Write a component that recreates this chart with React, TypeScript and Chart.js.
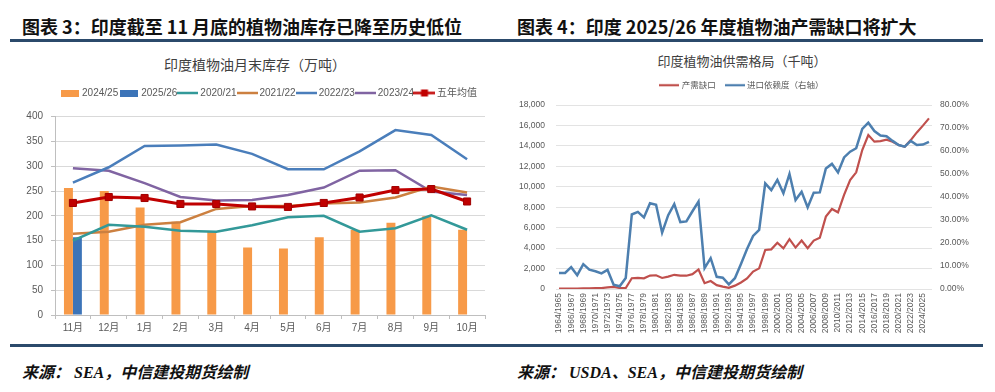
import React, { useEffect, useRef } from 'react';
import { Chart, registerables } from 'chart.js';

Chart.register(...registerables);

const FONT = "'Liberation Sans', 'Noto Sans CJK SC', sans-serif";
const CJK = "'Noto Sans CJK SC', 'Liberation Sans', sans-serif";

// ---------- Left chart: India vegetable oil month-end stocks (10k t) ----------
const months = ['11月', '12月', '1月', '2月', '3月', '4月', '5月', '6月', '7月', '8月', '9月', '10月'];
const stock2425 = [256, 250, 217, 188, 168, 136, 134, 157, 172, 186, 199, 172];
const stock2526 = [157, null, null, null, null, null, null, null, null, null, null, null];
const stock2021 = [150, 182, 178, 170, 168, 181, 197, 200, 168, 175, 201, 172];
const stock2122 = [164, 168, 182, 187, 214, 220, 220, 225, 227, 237, 259, 247];
const stock2223 = [267, 298, 341, 342, 344, 325, 294, 294, 330, 373, 363, 314];
const stock2324 = [296, 291, 266, 238, 231, 232, 242, 257, 291, 292, 249, 242];
const fiveYearAvg = [226, 238, 236, 224, 224, 219, 218, 226, 237, 252, 254, 229];

// ---------- Right chart: India vegetable oil supply-demand (kt) ----------
const seasons = ['1964/1965', '1965/1966', '1966/1967', '1967/1968', '1968/1969', '1969/1970', '1970/1971', '1971/1972', '1972/1973', '1973/1974', '1974/1975', '1975/1976', '1976/1977', '1977/1978', '1978/1979', '1979/1980', '1980/1981', '1981/1982', '1982/1983', '1983/1984', '1984/1985', '1985/1986', '1986/1987', '1987/1988', '1988/1989', '1989/1990', '1990/1991', '1991/1992', '1992/1993', '1993/1994', '1994/1995', '1995/1996', '1996/1997', '1997/1998', '1998/1999', '1999/2000', '2000/2001', '2001/2002', '2002/2003', '2003/2004', '2004/2005', '2005/2006', '2006/2007', '2007/2008', '2008/2009', '2009/2010', '2010/2011', '2011/2012', '2012/2013', '2013/2014', '2014/2015', '2015/2016', '2016/2017', '2017/2018', '2018/2019', '2019/2020', '2020/2021', '2021/2022', '2022/2023', '2023/2024', '2024/2025', '2025/2026'];
const supplyGap = [30, 30, 40, 50, 60, 70, 80, 90, 150, 200, 100, 100,
  1050, 1080, 1050, 1310, 1345, 1080, 1210, 1390, 1300, 1300, 1450, 1910,
  570, 780, 380, 230, 110, 330, 640, 1040, 1700, 2020, 3820, 3880,
  4530, 3980, 4870, 4050, 4740, 3990, 4740, 5020, 7080, 7830, 7500, 9200,
  10660, 11410, 13590, 15060, 14410, 14470, 14600, 14410, 14080, 13920, 14570, 15320, 15980, 16690];
const importDependence = [7.0, 7.0, 9.5, 6.0, 10.8, 8.4, 7.7, 6.8, 8.3, 1.9, 1.2, 4.8,
  32.4, 33.5, 31.1, 37.3, 36.6, 24.5, 32.1, 36.9, 29.1, 29.4, 33.8, 38.0,
  9.1, 13.4, 5.3, 4.9, 2.0, 4.7, 10.9, 17.4, 23.1, 25.7, 45.9, 43.0,
  47.4, 41.6, 50.0, 38.7, 42.3, 35.5, 41.9, 42.0, 52.4, 54.4, 50.7, 57.2,
  59.7, 61.2, 69.6, 72.3, 68.7, 66.7, 66.4, 64.4, 62.6, 61.9, 64.4, 62.6, 62.8, 64.0];

const C2425 = '#F79A48';
const C2526 = '#3C74B8';
const C2021 = '#339999';
const C2122 = '#CC8040';
const C2223 = '#4A7EBB';
const C2324 = '#8064A2';
const CAVG = '#C00000';
const CGAP = '#C0504D';
const CIMP = '#4D7FAF';

function makeIcon(w: number, h: number, draw: (ctx: CanvasRenderingContext2D) => void) {
  const c = document.createElement('canvas');
  c.width = w;
  c.height = h;
  const ctx = c.getContext('2d')!;
  draw(ctx);
  return c;
}

function lineIcon(color: string, w: number, lw: number) {
  const h = 4;
  return makeIcon(w, h, (ctx) => {
    ctx.strokeStyle = color;
    ctx.lineWidth = lw;
    ctx.beginPath();
    ctx.moveTo(0, h / 2);
    ctx.lineTo(w, h / 2);
    ctx.stroke();
  });
}

// extra space below the legend and optional horizontal shift of the legend drawing
function legendTweak(id: string, extra: number, dx: number) {
  return {
    id,
    beforeInit(chart: any) {
      const legend = chart.legend;
      if (!legend) return;
      const origFit = legend.fit.bind(legend);
      legend.fit = function () {
        origFit();
        this.height += extra;
      };
      const origDraw = legend.draw.bind(legend);
      legend.draw = function () {
        const ctx = this.ctx;
        ctx.save();
        ctx.translate(dx, 0);
        origDraw();
        ctx.restore();
      };
    },
  };
}

function StockChart() {
  const ref = useRef<HTMLCanvasElement>(null);
  useEffect(() => {
    const barIcon = (color: string) => makeIcon(18, 7, (ctx) => { ctx.fillStyle = color; ctx.fillRect(0, 0, 18, 7); });
    const avgIcon = makeIcon(22, 9, (ctx) => {
      ctx.strokeStyle = CAVG;
      ctx.lineWidth = 2.5;
      ctx.beginPath();
      ctx.moveTo(0, 4.5);
      ctx.lineTo(22, 4.5);
      ctx.stroke();
      ctx.fillStyle = CAVG;
      ctx.fillRect(7.5, 1, 7, 7);
    });
    const icons = [barIcon(C2425), barIcon(C2526), lineIcon(C2021, 21, 2.5), lineIcon(C2122, 21, 2.5), lineIcon(C2223, 21, 2.5), lineIcon(C2324, 21, 2.5), avgIcon];
    const lineDs = (label: string, data: number[], color: string) => ({
      type: 'line' as const, label, data, borderColor: color, backgroundColor: color,
      borderWidth: 2.5, pointRadius: 0, tension: 0, order: 1,
    });
    const chart = new Chart(ref.current!, {
      type: 'bar',
      data: {
        labels: months,
        datasets: [
          { type: 'bar', label: '2024/25', data: stock2425, backgroundColor: C2425, categoryPercentage: 0.5, barPercentage: 1, order: 2 },
          { type: 'bar', label: '2025/26', data: stock2526 as any, backgroundColor: C2526, categoryPercentage: 0.5, barPercentage: 1, order: 2 },
          lineDs('2020/21', stock2021, C2021),
          lineDs('2021/22', stock2122, C2122),
          lineDs('2022/23', stock2223, C2223),
          lineDs('2023/24', stock2324, C2324),
          {
            type: 'line', label: '五年均值', data: fiveYearAvg, borderColor: CAVG, backgroundColor: CAVG,
            borderWidth: 3, pointStyle: 'rect', pointRadius: 5, pointBackgroundColor: CAVG,
            pointBorderColor: '#A00000', pointBorderWidth: 1, tension: 0, order: 0,
          },
        ] as any,
      },
      options: {
        responsive: false,
        animation: false,
        devicePixelRatio: 1,
        layout: { padding: { top: 40, left: 0, right: 10, bottom: 0 } },
        plugins: {
          tooltip: { enabled: false },
          title: { display: false },
          legend: {
            display: true,
            position: 'top',
            labels: {
              usePointStyle: true,
              pointStyleWidth: 15,
              padding: 3,
              color: '#595959',
              font: { size: 10, family: FONT },
              sort: (a: any, b: any) => a.datasetIndex - b.datasetIndex,
              generateLabels: (ch: any) => {
                const items = (Chart.defaults.plugins.legend.labels.generateLabels as any)(ch);
                items.forEach((it: any) => { it.pointStyle = icons[it.datasetIndex]; it.lineWidth = 0; });
                return items;
              },
            },
          },
        },
        scales: {
          x: {
            offset: true,
            grid: { display: true, drawOnChartArea: false, drawTicks: true, tickLength: 4, color: '#BFBFBF', offset: true },
            border: { display: true, color: '#BFBFBF' },
            ticks: { color: '#595959', font: { size: 10, family: FONT }, padding: 3, autoSkip: false, maxRotation: 0 },
            afterFit: (s: any) => { s.height = 27; },
          },
          y: {
            min: 0, max: 400,
            ticks: { stepSize: 50, color: '#595959', font: { size: 10, family: FONT }, padding: 8 },
            grid: { color: '#D9D9D9', drawTicks: true, tickLength: 4, tickColor: '#BFBFBF' },
            border: { display: true, color: '#BFBFBF' },
            afterFit: (s: any) => { s.width = 45; },
          },
        },
      },
      plugins: [legendTweak('leftLegendTweak', 8.7, 22)],
    });
    return () => chart.destroy();
  }, []);
  return <canvas ref={ref} width={485} height={297} style={{ position: 'absolute', left: 10, top: 45 }} />;
}

function BalanceChart() {
  const ref = useRef<HTMLCanvasElement>(null);
  useEffect(() => {
    const icons = [lineIcon(CGAP, 20, 2.2), lineIcon(CIMP, 20, 2.2)];
    const chart = new Chart(ref.current!, {
      type: 'line',
      data: {
        labels: seasons,
        datasets: [
          { label: '产需缺口', data: supplyGap, borderColor: CGAP, backgroundColor: CGAP, borderWidth: 2.2, pointRadius: 0, tension: 0, yAxisID: 'y', order: 1 },
          { label: '进口依赖度（右轴）', data: importDependence, borderColor: CIMP, backgroundColor: CIMP, borderWidth: 2.5, pointRadius: 0, tension: 0, yAxisID: 'y1', order: 0 },
        ],
      },
      options: {
        responsive: false,
        animation: false,
        devicePixelRatio: 1,
        layout: { padding: { top: 25, left: 0, right: 0, bottom: 0 } },
        plugins: {
          tooltip: { enabled: false },
          title: { display: false },
          legend: {
            display: true,
            position: 'top',
            labels: {
              usePointStyle: true,
              pointStyleWidth: 16,
              padding: 11,
              color: '#595959',
              font: { size: 8.5, family: CJK },
              sort: (a: any, b: any) => a.datasetIndex - b.datasetIndex,
              generateLabels: (ch: any) => {
                const items = (Chart.defaults.plugins.legend.labels.generateLabels as any)(ch);
                items.forEach((it: any) => { it.pointStyle = icons[it.datasetIndex]; it.lineWidth = 0; });
                return items;
              },
            },
          },
        },
        scales: {
          x: {
            offset: true,
            grid: { display: false, drawTicks: false },
            border: { display: false },
            ticks: {
              autoSkip: false, minRotation: 90, maxRotation: 90, padding: 4,
              color: '#595959', font: { size: 8.5, family: FONT },
              callback: (_v: any, i: number) => (i % 2 === 0 ? seasons[i] : ''),
            },
            afterFit: (s: any) => { s.height = 53; },
          },
          y: {
            position: 'left', min: 0, max: 18000,
            ticks: { stepSize: 2000, color: '#595959', font: { size: 8.5, family: FONT }, padding: 11, callback: (v: any) => Number(v).toLocaleString('en-US') },
            grid: { color: '#E3E3E3', drawTicks: false },
            border: { display: false },
            afterFit: (s: any) => { s.width = 56; },
          },
          y1: {
            position: 'right', min: 0, max: 80,
            ticks: { stepSize: 10, color: '#595959', font: { size: 8.5, family: FONT }, padding: 8, callback: (v: any) => Number(v).toFixed(2) + '%' },
            grid: { drawOnChartArea: false, drawTicks: false },
            border: { display: false },
            afterFit: (s: any) => { s.width = 53; },
          },
        },
      },
      plugins: [legendTweak('rightLegendTweak', 5.5, 0)],
    });
    return () => chart.destroy();
  }, []);
  return <canvas ref={ref} width={485} height={297} style={{ position: 'absolute', left: 500, top: 45 }} />;
}

const heading: React.CSSProperties = {
  position: 'absolute', fontFamily: CJK, fontWeight: 700, fontSize: 18, lineHeight: '24px',
  color: '#111', whiteSpace: 'nowrap',
};
const source: React.CSSProperties = {
  position: 'absolute', fontFamily: "'Liberation Serif', 'Noto Sans CJK SC', serif", fontWeight: 700,
  fontStyle: 'italic', fontSize: 16, lineHeight: '20px', color: '#111', whiteSpace: 'nowrap',
};
const chartTitle: React.CSSProperties = {
  position: 'absolute', fontFamily: CJK, fontSize: 14, lineHeight: '18px', color: '#404040',
  whiteSpace: 'nowrap', textAlign: 'center',
};
const rule = (left: number, top: number, width: number): React.CSSProperties => ({
  position: 'absolute', left, top, width, height: 3, background: '#2B4A6B',
});

export default function App() {
  return (
    <div style={{ position: 'absolute', left: 0, top: 0, width: 995, height: 392, background: '#fff', overflow: 'hidden' }}>
      <div style={{ ...heading, left: 22, top: 14 }}>图表 3：印度截至 11 月底的植物油库存已降至历史低位</div>
      <div style={{ ...heading, left: 517, top: 14 }}>图表 4：印度 2025/26 年度植物油产需缺口将扩大</div>
      <div style={rule(10, 39, 490)} />
      <div style={rule(500, 39, 483)} />
      <div style={{ ...chartTitle, left: 105, width: 300, top: 55 }}>印度植物油月末库存（万吨）</div>
      <div style={{ ...chartTitle, fontSize: 13, left: 592, width: 300, top: 52 }}>印度植物油供需格局（千吨）</div>
      <StockChart />
      <BalanceChart />
      <div style={rule(10, 344, 490)} />
      <div style={rule(500, 344, 483)} />
      <div style={{ ...source, left: 22, top: 363 }}>来源： SEA，中信建投期货绘制</div>
      <div style={{ ...source, left: 517, top: 363 }}>来源： USDA、SEA，中信建投期货绘制</div>
    </div>
  );
}
